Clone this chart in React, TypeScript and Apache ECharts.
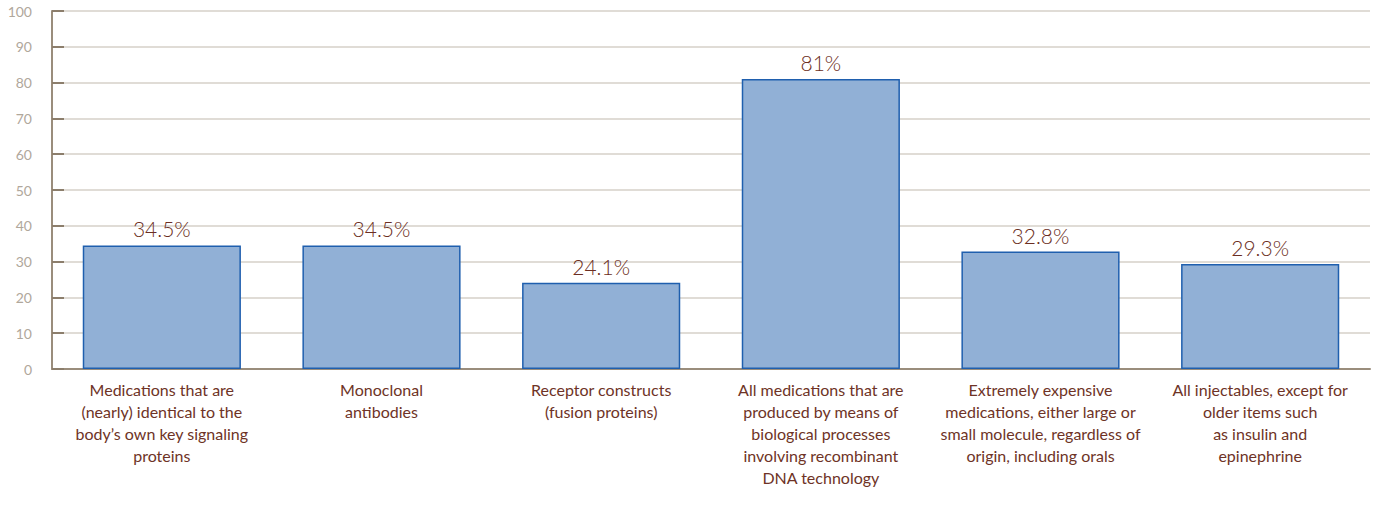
import React, { useEffect, useRef } from "react";
import * as echarts from "echarts";

const categories = [
  "Medications that are\n(nearly) identical to the\nbody’s own key signaling\nproteins",
  "Monoclonal\nantibodies",
  "Receptor constructs\n(fusion proteins)",
  "All medications that are\nproduced by means of\nbiological processes\ninvolving recombinant\nDNA technology",
  "Extremely expensive\nmedications, either large or\nsmall molecule, regardless of\norigin, including orals",
  "All injectables, except for\nolder items such\nas insulin and\nepinephrine",
];
const values = [34.5, 34.5, 24.1, 81, 32.8, 29.3];
const valueLabels = ["34.5%", "34.5%", "24.1%", "81%", "32.8%", "29.3%"];

export default function App() {
  const ref = useRef<HTMLDivElement>(null);
  useEffect(() => {
    const chart = echarts.init(ref.current!, undefined, { renderer: "svg" });
    chart.setOption({
      animation: false,
      textStyle: { fontFamily: "Lato" },
      grid: { left: 52, right: 10, top: 11, bottom: 143, containLabel: false },
      xAxis: {
        type: "category",
        data: categories,
        axisLine: { show: true, lineStyle: { color: "#9a8d7c", width: 2 } },
        axisTick: { show: false },
        axisLabel: {
          color: "#6e3326",
          fontSize: 16,
          fontWeight: 400,
          lineHeight: 22,
          margin: 9,
          interval: 0,
          fontFamily: "Lato",
        },
        splitLine: { show: false },
      },
      yAxis: {
        type: "value",
        min: 0,
        max: 100,
        interval: 10,
        axisLine: { show: true, lineStyle: { color: "#9a8d7c", width: 2 } },
        axisTick: { show: true, inside: true, length: 12, lineStyle: { color: "#8c7e6c", width: 2 } },
        axisLabel: { color: "#b0a79b", fontSize: 14, margin: 20, fontFamily: "Lato" },
        splitLine: { show: true, lineStyle: { color: "#d6d0c9", width: 1.5 } },
      },
      series: [
        {
          type: "bar",
          data: values,
          barWidth: "72%",
          itemStyle: { color: "#91b0d6", borderColor: "#1f5fae", borderWidth: 1.5 },
          label: {
            show: true,
            position: "top",
            distance: 6,
            color: "#6b2e22",
            fontSize: 21,
            fontWeight: 300,
            fontFamily: "Lato",
            formatter: (p: any) => valueLabels[p.dataIndex],
          },
        },
      ],
    });
    return () => chart.dispose();
  }, []);
  return (
    <div
      ref={ref}
      style={{ position: "fixed", left: 0, top: 0, width: 1380, height: 512, background: "#fff" }}
    />
  );
}
